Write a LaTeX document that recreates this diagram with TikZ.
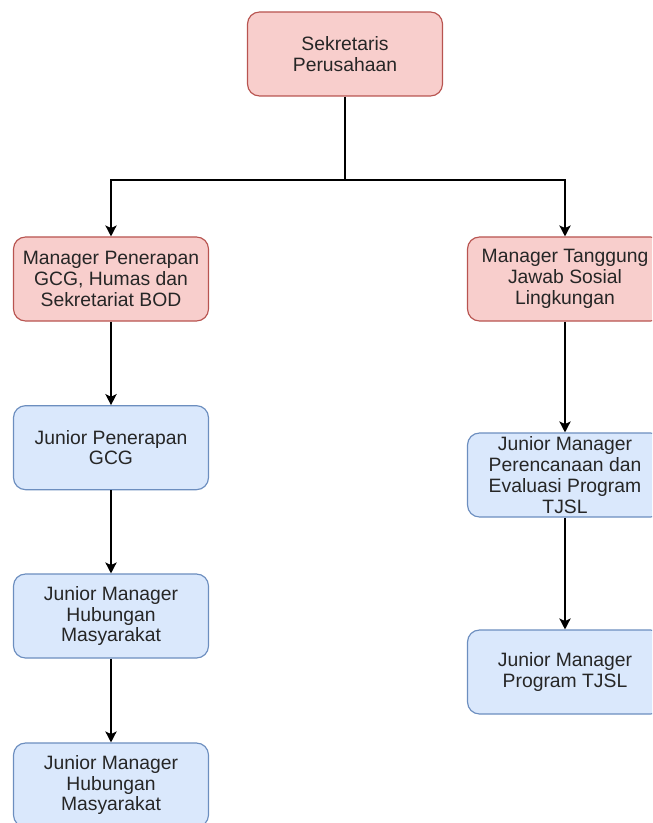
\documentclass[tikz,border=0pt]{standalone}
\usepackage{fontspec}
\setmainfont{Liberation Sans}
\usetikzlibrary{arrows.meta}

\definecolor{redfill}{HTML}{F8CECC}
\definecolor{redline}{HTML}{B85450}
\definecolor{bluefill}{HTML}{DAE8FC}
\definecolor{blueline}{HTML}{6C8EBF}

\tikzset{
	box/.style={rounded corners=0.36cm, minimum width=5.85cm, minimum height=2.52cm,
		inner xsep=2pt, inner ysep=0pt, align=center, line width=0.035cm,
		text=black!85, font=\fontsize{16.5}{17.7}\selectfont},
	redbox/.style={box, draw=redline, fill=redfill},
	bluebox/.style={box, draw=blueline, fill=bluefill},
	arr/.style={-{Stealth[length=0.33cm, width=0.34cm, inset=0.08cm]}, line width=0.04cm},
	conn/.style={line width=0.04cm}
}

\begin{document}
\begin{tikzpicture}
		\useasboundingbox (0, 0) rectangle (19.56, -24.69);
		\clip (0, 0) rectangle (19.56, -24.69);
		% top
		\node[redbox] (sek) at (10.35, -1.62) {Sekretaris\\Perusahaan};
		\coordinate (cab) at (10.35, -5.4);
		% managers
		\node[redbox] (mgcg) at (3.33, -8.37) {Manager Penerapan\\GCG, Humas dan\\Sekretariat BOD};
		\node[redbox] (mtjsl) at (16.95, -8.37) {Manager Tanggung\\Jawab Sosial\\Lingkungan};
		% left column
		\node[bluebox] (jgcg) at (3.33, -13.43) {Junior Penerapan\\GCG};
		\node[bluebox] (jhum) at (3.33, -18.48) {Junior Manager\\Hubungan\\Masyarakat};
		\node[bluebox] (jhum2) at (3.33, -23.55) {Junior Manager\\Hubungan\\Masyarakat};
		% right column
		\node[bluebox] (jeval) at (16.95, -14.25) {Junior Manager\\Perencanaan dan\\Evaluasi Program\\TJSL};
		\node[bluebox] (jprog) at (16.95, -20.16) {Junior Manager\\Program TJSL};

		\draw[conn] (sek) -- (cab);
		\draw[arr] (cab) -| (mgcg);
		\draw[arr] (cab) -| (mtjsl);
		\draw[arr] (mgcg) -- (jgcg);
		\draw[arr] (jgcg) -- (jhum);
		\draw[arr] (jhum) -- (jhum2);
		\draw[arr] (mtjsl) -- (jeval);
		\draw[arr] (jeval) -- (jprog);
	\end{tikzpicture}
\end{document}
